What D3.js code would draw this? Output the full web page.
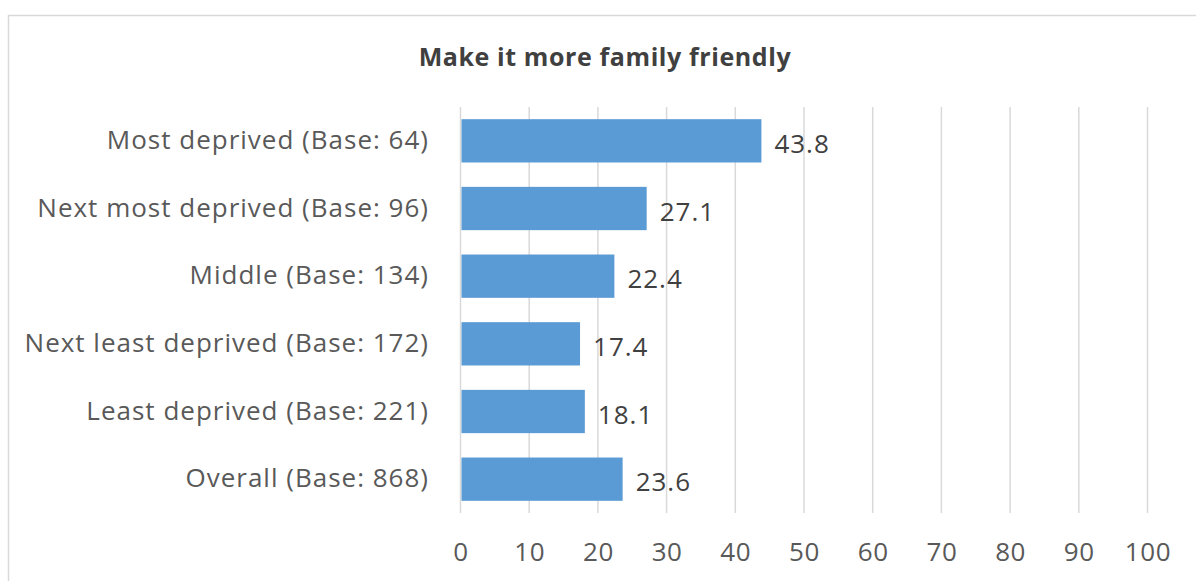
<!DOCTYPE html>
<html>
<head>
<meta charset="utf-8">
<script src="https://d3js.org/d3.v7.min.js"></script>
<style>
  body { margin: 0; background: #fff; }
  text { font-family: "Open Sans", sans-serif; }
</style>
</head>
<body>
<script>
const categories = [
  "Most deprived (Base: 64)",
  "Next most deprived (Base: 96)",
  "Middle (Base: 134)",
  "Next least deprived (Base: 172)",
  "Least deprived (Base: 221)",
  "Overall (Base: 868)"
];
const values = [43.8, 27.1, 22.4, 17.4, 18.1, 23.6];
const xTicks = [0, 10, 20, 30, 40, 50, 60, 70, 80, 90, 100];

const w = 1196, h = 581;
const plotLeft = 460.5, plotRight = 1147.5, plotTop = 107, plotBottom = 513;

const svg = d3.select("body").append("svg")
  .attr("width", w)
  .attr("height", h);

// outer chart frame
svg.append("rect")
  .attr("x", 8.5).attr("y", 15.5)
  .attr("width", 1200).attr("height", 600)
  .attr("fill", "#fff")
  .attr("stroke", "#d9d9d9")
  .attr("stroke-width", 1.5);

svg.append("text")
  .attr("x", 605)
  .attr("y", 66)
  .attr("text-anchor", "middle")
  .style("font-size", "25px")
  .style("font-weight", "bold")
  .style("letter-spacing", "0.6px")
  .attr("fill", "#404040")
  .text("Make it more family friendly");

const x = d3.scaleLinear().domain([0, 100]).range([plotLeft, plotRight]);
const y = d3.scaleBand().domain(categories).range([plotTop, plotBottom]).paddingInner(0.36).paddingOuter(0.18);

// gridlines
svg.append("g")
  .selectAll("line")
  .data(xTicks)
  .enter()
  .append("line")
  .attr("x1", d => x(d)).attr("x2", d => x(d))
  .attr("y1", plotTop).attr("y2", plotBottom)
  .attr("stroke", "#d9d9d9")
  .attr("stroke-width", 1.5);

// x axis labels
const xAxis = d3.axisBottom(x).tickValues(xTicks).tickSize(0).tickPadding(0);
const gx = svg.append("g")
  .attr("transform", "translate(0," + (plotBottom + 30) + ")")
  .call(xAxis);
gx.select(".domain").remove();
gx.selectAll("text")
  .style("font-family", "'Open Sans', sans-serif")
  .style("font-size", "26px")
  .style("letter-spacing", "0.6px")
  .attr("fill", "#595959");

// y axis labels
const yAxis = d3.axisLeft(y).tickSize(0).tickPadding(0);
const gy = svg.append("g")
  .attr("transform", "translate(429,0)")
  .call(yAxis);
gy.select(".domain").remove();
gy.selectAll("text")
  .style("font-family", "'Open Sans', sans-serif")
  .style("font-size", "26px")
  .style("letter-spacing", "1px")
  .attr("fill", "#595959");

// bars
svg.selectAll("rect.bar")
  .data(values)
  .enter()
  .append("rect")
  .attr("class", "bar")
  .attr("x", x(0) + 1)
  .attr("y", (d, i) => y(categories[i]))
  .attr("width", d => x(d) - x(0) - 1)
  .attr("height", y.bandwidth())
  .attr("fill", "#5b9bd5");

// data labels
svg.selectAll("text.val")
  .data(values)
  .enter()
  .append("text")
  .attr("class", "val")
  .attr("x", d => x(d) + 13)
  .attr("y", (d, i) => y(categories[i]) + y.bandwidth() / 2 + 12)
  .style("font-size", "26px")
  .style("letter-spacing", "1px")
  .attr("fill", "#404040")
  .text(d => d.toFixed(1));
</script>
</body>
</html>
